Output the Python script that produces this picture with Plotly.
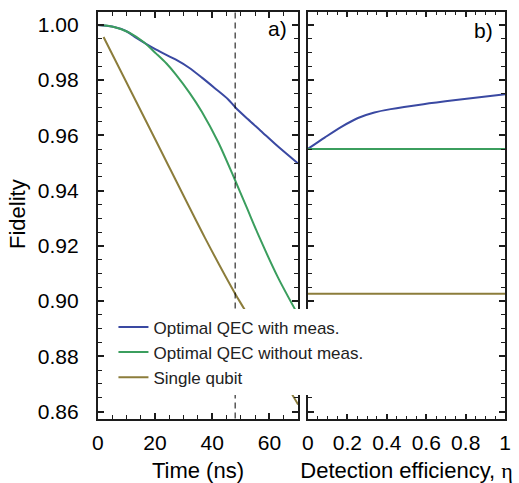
import plotly.graph_objects as go

# ---------------- data ----------------
# Panel a) fidelity vs time (ns)
t_meas = [0, 5, 10, 13.6, 20.4, 27.3, 31.9, 36.4, 41.0, 45.5, 48.1, 52.4, 56.9, 62.6, 70]
F_meas = [1.000, 0.9994, 0.9977, 0.9952, 0.9910, 0.9874, 0.9845, 0.9809, 0.9770,
          0.9731, 0.9701, 0.9659, 0.9617, 0.9563, 0.9498]

t_nomeas = [0, 4, 8, 11.3, 16, 20.4, 24, 27.3, 32, 36.4, 42.1, 47.8, 52, 56.3, 63, 70]
F_nomeas = [1.000, 0.9996, 0.9985, 0.9970, 0.9938, 0.9896, 0.9860, 0.9820, 0.9755,
            0.9685, 0.9575, 0.9442, 0.9340, 0.9235, 0.9085, 0.8950]

t_single = [2.0, 20, 37.5, 48.1, 51.2, 67.2, 70]
F_single = [0.9956, 0.9587, 0.9228, 0.9025, 0.8971, 0.8675, 0.8626]

marker_time = 48  # dashed vertical line (ns)

# Panel b) fidelity vs detection efficiency
eta_meas = [0, 0.087, 0.17, 0.254, 0.337, 0.42, 0.586, 0.75, 1.0]
Fb_meas = [0.9551, 0.9593, 0.9631, 0.9663, 0.9683, 0.9695, 0.9713, 0.9728, 0.9749]
eta_flat = [0, 1]
Fb_nomeas = [0.9551, 0.9551]
Fb_single = [0.9027, 0.9027]

names = ["Optimal QEC with meas.", "Optimal QEC without meas.", "Single qubit"]
colors = ["#3a49a2", "#3b9e5e", "#8c7d3b"]

y_ticks = [0.86, 0.88, 0.90, 0.92, 0.94, 0.96, 0.98, 1.00]
y_range = [0.8575, 1.0047]
t_ticks = [0, 20, 40, 60]
t_range = [0, 70]
eta_ticks = [0, 0.2, 0.4, 0.6, 0.8, 1]
eta_labels = ["0", "0.2", "0.4", "0.6", "0.8", "1"]

# ---------------- figure ----------------
W, H = 519, 483
FONT = "Liberation Sans"
AX = "#1c1c1c"

fig = go.Figure()
for xs, ys, nm, c in zip([t_meas, t_nomeas, t_single], [F_meas, F_nomeas, F_single], names, colors):
    fig.add_trace(go.Scatter(x=xs, y=ys, mode="lines", name=nm,
                             line=dict(color=c, width=2, shape="spline", smoothing=0.8),
                             xaxis="x", yaxis="y"))
for xs, ys, c in zip([eta_meas, eta_flat, eta_flat], [Fb_meas, Fb_nomeas, Fb_single], colors):
    fig.add_trace(go.Scatter(x=xs, y=ys, mode="lines", showlegend=False,
                             line=dict(color=c, width=2, shape="spline", smoothing=0.8),
                             xaxis="x2", yaxis="y2"))

fig.add_vline(x=marker_time, line=dict(color="black", width=1, dash="6px,4px"))

common = dict(showgrid=False, zeroline=False, showline=True, linecolor=AX, linewidth=2,
              mirror="ticks", ticks="inside", tickcolor=AX, tickwidth=1.5,
              tickfont=dict(family=FONT, size=21, color="black"))

xa_dom = [94 / W, 299 / W]
xb_dom = [309 / W, 511 / W]
y_dom = [1 - 422 / H, 1 - 12 / H]

fig.update_layout(
    width=W, height=H, autosize=False, margin=dict(l=0, r=0, t=0, b=0),
    paper_bgcolor="white", plot_bgcolor="white",
    font=dict(family=FONT, color="black"),
    xaxis=dict(common, domain=xa_dom, anchor="y", range=t_range, tickvals=t_ticks,
               ticklen=6, minor=dict(dtick=5, tick0=0, ticklen=4, ticks="inside", tickcolor=AX, tickwidth=1),
               ticklabelstandoff=4,
               title=dict(text="Time (ns)", font=dict(family=FONT, size=22), standoff=10)),
    xaxis3=dict(overlaying="x", anchor="y", range=t_range, showline=False, showgrid=False,
                zeroline=False, ticks="inside", dtick=1, tick0=0, ticklen=2, tickwidth=1,
                tickcolor=AX, showticklabels=False, mirror="ticks"),
    xaxis2=dict(common, domain=xb_dom, anchor="y2", range=[0, 1], tickvals=eta_ticks,
                ticktext=eta_labels, ticklen=5,
                minor=dict(dtick=0.05, tick0=0, ticklen=3, ticks="inside", tickcolor=AX, tickwidth=1),
                ticklabelstandoff=4,
                title=dict(text='Detection efficiency, <span style="font-family:Liberation Serif">η</span>',
                           font=dict(family=FONT, size=22), standoff=10)),
    yaxis=dict(common, domain=y_dom, anchor="x", range=y_range, tickvals=y_ticks,
               tickformat=".2f", ticklen=6,
               minor=dict(dtick=0.005, tick0=0.86, ticklen=4, ticks="inside", tickcolor=AX, tickwidth=1),
               ticklabelstandoff=13),
    yaxis2=dict(common, domain=y_dom, anchor="x2", range=y_range, tickvals=y_ticks,
                showticklabels=False, ticklen=6,
                minor=dict(dtick=0.005, tick0=0.86, ticklen=4, ticks="inside", tickcolor=AX, tickwidth=1)),
    legend=dict(x=110 / W, y=1 - 312 / H, xanchor="left", yanchor="top",
                bgcolor="white", borderwidth=0, font=dict(family=FONT, size=17, color="#222"),
                itemwidth=30, tracegroupgap=0),
    annotations=[
        dict(text="Fidelity", x=11 / W, y=1 - 216 / H, xref="paper", yref="paper",
             xanchor="center", yanchor="middle", textangle=-90, showarrow=False,
             font=dict(family=FONT, size=22)),
        dict(text="a)", x=290 / W, y=1 - 29 / H, xref="paper", yref="paper",
             xanchor="right", yanchor="middle", showarrow=False, font=dict(family=FONT, size=21)),
        dict(text="b)", x=501 / W, y=1 - 31 / H, xref="paper", yref="paper",
             xanchor="right", yanchor="middle", showarrow=False, font=dict(family=FONT, size=21)),
    ],
)

fig.write_html("out.html", config={"displayModeBar": False, "responsive": False},
               post_script="document.body.style.margin='0';document.body.style.overflow='hidden';")
